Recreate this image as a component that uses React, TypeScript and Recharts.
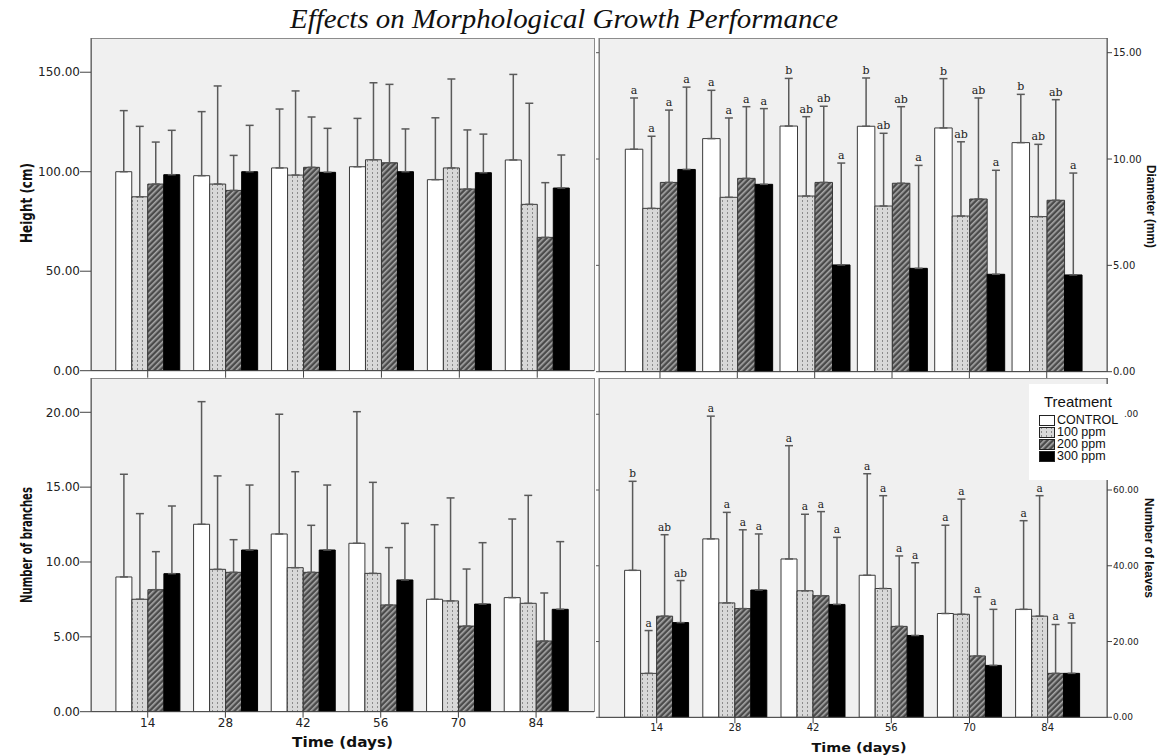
import React from "react";
import { BarChart, Bar, XAxis, YAxis, ErrorBar, LabelList } from "recharts";

const DAYS = ["14", "28", "42", "56", "70", "84"];
const TREATMENTS = ["CONTROL", "100 ppm", "200 ppm", "300 ppm"];

// Height (cm): bar means and error-bar tops, one row per treatment
const HEIGHT_MEAN = [
  [100.0, 98.0, 101.9, 102.5, 96.0, 105.9],
  [87.4, 93.8, 98.3, 106.0, 101.9, 83.6],
  [93.8, 90.6, 102.2, 104.5, 91.3, 67.0],
  [98.5, 100.0, 99.7, 100.0, 99.5, 91.8],
];
const HEIGHT_TOP = [
  [130.7, 130.2, 131.5, 126.8, 127.1, 148.9],
  [122.8, 143.1, 140.6, 144.7, 146.6, 134.4],
  [114.9, 108.2, 127.5, 143.9, 121.0, 94.5],
  [120.8, 123.3, 121.8, 121.5, 118.9, 108.4],
];

// Diameter (mm)
const DIAMETER_MEAN = [
  [10.46, 10.96, 11.55, 11.54, 11.46, 10.77],
  [7.68, 8.2, 8.26, 7.79, 7.32, 7.29],
  [8.9, 9.09, 8.9, 8.86, 8.12, 8.06],
  [9.51, 8.81, 5.02, 4.86, 4.58, 4.55],
];
const DIAMETER_TOP = [
  [12.87, 13.23, 13.79, 13.81, 13.78, 13.04],
  [11.07, 11.93, 11.99, 11.21, 10.81, 10.69],
  [12.3, 12.46, 12.48, 12.46, 12.87, 12.79],
  [13.38, 12.37, 9.81, 9.7, 9.47, 9.34],
];
const DIAMETER_LETTERS = [
  ["a", "a", "b", "b", "b", "b"],
  ["a", "a", "ab", "ab", "ab", "ab"],
  ["a", "a", "ab", "ab", "ab", "ab"],
  ["a", "a", "a", "a", "a", "a"],
];

// Number of branches
const BRANCH_MEAN = [
  [9.0, 12.52, 11.87, 11.25, 7.51, 7.62],
  [7.51, 9.51, 9.62, 9.24, 7.4, 7.24],
  [8.15, 9.31, 9.31, 7.13, 5.72, 4.72],
  [9.22, 10.8, 10.8, 8.8, 7.19, 6.84],
];
const BRANCH_TOP = [
  [15.86, 20.71, 19.87, 20.04, 12.49, 12.87],
  [13.23, 15.75, 16.03, 15.32, 14.28, 14.45],
  [10.69, 11.49, 12.45, 10.96, 9.53, 7.93],
  [13.74, 15.14, 15.14, 12.58, 11.29, 11.36],
];

// Number of leaves
const LEAF_MEAN = [
  [38.8, 47.1, 41.8, 37.5, 27.4, 28.5],
  [11.6, 30.2, 33.4, 34.0, 27.2, 26.7],
  [26.7, 28.7, 32.1, 24.0, 16.2, 11.6],
  [25.0, 33.6, 29.8, 21.6, 13.7, 11.6],
];
const LEAF_TOP = [
  [62.3, 79.5, 71.7, 64.3, 50.7, 51.9],
  [22.9, 54.1, 53.6, 58.5, 57.6, 58.5],
  [48.2, 49.5, 54.3, 42.6, 31.8, 24.5],
  [36.1, 48.4, 47.5, 40.8, 28.5, 24.9],
];
const LEAF_LETTERS = [
  ["b", "a", "a", "a", "a", "a"],
  ["a", "a", "a", "a", "a", "a"],
  ["ab", "a", "a", "a", "a", "a"],
  ["ab", "a", "a", "a", "a", "a"],
];

const buildRows = (mean: number[][], top: number[][], letters?: string[][]) =>
  DAYS.map((day, i) => {
    const row: any = { day };
    mean.forEach((m, s) => {
      row[`m${s}`] = m[i];
      row[`e${s}`] = [0, +(top[s][i] - m[i]).toFixed(2)];
      if (letters) row[`l${s}`] = letters[s][i];
    });
    return row;
  });

const fillFor = (id: string, s: number) =>
  s === 0 ? "#ffffff" : s === 1 ? `url(#dots-${id})` : s === 2 ? `url(#hatch-${id})` : "#000000";

function Patterns({ id }: { id: string }) {
  return (
    <defs>
      <pattern id={`dots-${id}`} width={5} height={4} patternUnits="userSpaceOnUse">
        <rect width={5} height={4} fill="#d8d8d8" />
        <rect x={2} y={0} width={1} height={2} fill="#8a8a8a" />
      </pattern>
      <pattern id={`hatch-${id}`} width={4} height={4} patternUnits="userSpaceOnUse" patternTransform="rotate(45)">
        <rect width={4} height={4} fill="#4a4a4a" />
        <rect x={0} y={0} width={1.6} height={4} fill="#a8a8a8" />
      </pattern>
    </defs>
  );
}

const letterContent = (fontSize: number) => (props: any) => {
  const vb = props.viewBox;
  if (!vb) return null;
  const [letter, err, mean] = String(props.value).split("|");
  const k = vb.height / Number(mean);
  return (
    <text
      x={vb.x + vb.width / 2}
      y={vb.y - Number(err) * k - 4}
      textAnchor="middle"
      fontSize={fontSize}
      fontFamily="'DejaVu Serif', serif"
      fill="#222"
    >
      {letter}
    </text>
  );
};

// y tick; the integer part of a label hidden under the legend is dropped, as in the source
const yTick = (fontSize: number, covered?: number) => (p: any) => {
  const v = Number(p.payload.value);
  const full = v.toFixed(2);
  const hide = covered !== undefined && v === covered;
  return (
    <text
      x={hide ? p.x + 11 : p.x}
      y={p.y}
      dy="0.355em"
      textAnchor={p.textAnchor}
      fontSize={fontSize}
      fill="#222"
      fontFamily="'DejaVu Sans', sans-serif"
    >
      {hide ? full.slice(full.indexOf(".")) : full}
    </text>
  );
};

type Geo = { left: number; top: number; w: number; h: number; x0: number; x1: number; y0: number; y1: number; xh: number };

interface PanelProps {
  id: string;
  geo: Geo;
  rows: any[];
  max: number;
  ticks: number[];
  side: "left" | "right";
  barSize: number;
  padL: number;
  padR: number;
  yFont: number;
  xFont: number;
  xLabels: boolean;
  tickX: number;
  letterFont?: number;
  covered?: number;
}

function Panel({ id, geo, rows, max, ticks, side, barSize, padL, padR, yFont, xFont, xLabels, tickX, letterFont, covered }: PanelProps) {
  const right = side === "right";
  const leftW = geo.x0 - geo.left;
  const rightW = geo.left + geo.w - geo.x1;
  const margin = {
    top: geo.y0 - geo.top,
    left: 0,
    right: right ? 0 : rightW,
    bottom: geo.top + geo.h - geo.y1 - geo.xh,
  };
  return (
    <>
      <div
        style={{
          position: "absolute",
          left: geo.x0 - 0.5,
          top: geo.y0 - 0.5,
          width: geo.x1 - geo.x0 + 1,
          height: geo.y1 - geo.y0 + 1,
          background: "#f0f0f0",
          border: "1px solid #8c8c8c",
          boxSizing: "border-box",
        }}
      />
      <div style={{ position: "absolute", left: geo.left, top: geo.top }}>
        <BarChart width={geo.w} height={geo.h} data={rows} margin={margin} barGap={0}>
          <Patterns id={id} />
          <XAxis
            dataKey="day"
            interval={0}
            padding={{ left: padL, right: padR }}
            height={geo.xh}
            tickSize={tickX}
            tickMargin={1}
            axisLine={{ stroke: "#444" }}
            tickLine={{ stroke: "#444" }}
            tick={{ fontSize: xFont, fill: "#222", fontFamily: "'DejaVu Sans', sans-serif" }}
            tickFormatter={xLabels ? undefined : () => ""}
          />
          {right && (
            <YAxis
              yAxisId="edge"
              orientation="left"
              width={leftW}
              domain={[0, max]}
              ticks={ticks}
              interval={0}
              allowDataOverflow
              tickSize={3}
              tickFormatter={() => ""}
              axisLine={{ stroke: "#777" }}
              tickLine={{ stroke: "#555" }}
            />
          )}
          <YAxis
            yAxisId="v"
            orientation={side}
            width={right ? rightW : leftW}
            domain={[0, max]}
            ticks={ticks}
            interval={0}
            allowDataOverflow
            tickSize={right ? 5 : 11}
            tickMargin={right ? 1 : 0}
            axisLine={{ stroke: "#555" }}
            tickLine={{ stroke: "#444" }}
            tick={yTick(yFont, covered)}
          />
          {TREATMENTS.map((t, s) => (
            <Bar
              key={t}
              name={t}
              yAxisId="v"
              dataKey={`m${s}`}
              fill={fillFor(id, s)}
              stroke={s === 3 ? "#000" : "#3a3a3a"}
              strokeWidth={1}
              barSize={barSize}
              isAnimationActive={false}
            >
              <ErrorBar dataKey={`e${s}`} direction="y" width={4} stroke="#5a5a5a" strokeWidth={1.5} isAnimationActive={false} />
              {letterFont && (
                <LabelList
                  dataKey={(row: any) => `${row[`l${s}`]}|${row[`e${s}`][1]}|${row[`m${s}`]}`}
                  content={letterContent(letterFont)}
                />
              )}
            </Bar>
          ))}
        </BarChart>
      </div>
    </>
  );
}

function LegendBox() {
  return (
    <div
      style={{
        position: "absolute",
        left: 1029,
        top: 384,
        width: 94,
        height: 96,
        background: "#fff",
        fontFamily: "'Liberation Sans', Arial, sans-serif",
        color: "#111",
      }}
    >
      <div style={{ position: "absolute", left: 15, top: 10, fontSize: 15, lineHeight: "15px" }}>Treatment</div>
      {TREATMENTS.map((t, s) => (
        <div
          key={t}
          style={{ position: "absolute", left: 10, top: 30 + s * 12, height: 12, display: "flex", alignItems: "center", fontSize: 12.5, whiteSpace: "nowrap" }}
        >
          <svg width={16} height={11} style={{ display: "block" }}>
            <Patterns id={`lg${s}`} />
            <rect x={0.5} y={0.5} width={15} height={10} fill={fillFor(`lg${s}`, s)} stroke="#222" />
          </svg>
          <span style={{ marginLeft: 2, lineHeight: "12px" }}>{t}</span>
        </div>
      ))}
    </div>
  );
}

const NARROW = "'Liberation Sans Narrow', 'Arial Narrow', 'DejaVu Sans Condensed', sans-serif";

export default function App() {
  const heightRows = buildRows(HEIGHT_MEAN, HEIGHT_TOP);
  const diameterRows = buildRows(DIAMETER_MEAN, DIAMETER_TOP, DIAMETER_LETTERS);
  const branchRows = buildRows(BRANCH_MEAN, BRANCH_TOP);
  const leafRows = buildRows(LEAF_MEAN, LEAF_TOP, LEAF_LETTERS);

  return (
    <div style={{ position: "absolute", left: 0, top: 0, width: 1163, height: 756, background: "#fff", overflow: "hidden" }}>
      <Panel
        id="tl"
        geo={{ left: 0, top: 0, w: 600, h: 380, x0: 91, x1: 594, y0: 38, y1: 370.7, xh: 8 }}
        rows={heightRows}
        max={167.2}
        ticks={[0, 50, 100, 150]}
        side="left"
        barSize={16}
        padL={17.75}
        padR={17.8}
        yFont={12}
        xFont={12}
        xLabels={false}
        tickX={7}
      />
      <Panel
        id="tr"
        geo={{ left: 590, top: 0, w: 573, h: 380, x0: 599, x1: 1107, y0: 38, y1: 371.7, xh: 8 }}
        rows={diameterRows}
        max={15.69}
        ticks={[0, 5, 10, 15]}
        side="right"
        barSize={17.5}
        padL={22.3}
        padR={21.6}
        yFont={10}
        xFont={10}
        xLabels={false}
        tickX={7}
        letterFont={11}
      />
      <Panel
        id="bl"
        geo={{ left: 0, top: 370, w: 600, h: 386, x0: 91, x1: 594, y0: 378, y1: 711.7, xh: 20 }}
        rows={branchRows}
        max={22.29}
        ticks={[0, 5, 10, 15, 20]}
        side="left"
        barSize={16}
        padL={17.9}
        padR={19.1}
        yFont={12}
        xFont={12}
        xLabels
        tickX={6}
      />
      <Panel
        id="br"
        geo={{ left: 590, top: 370, w: 573, h: 386, x0: 599, x1: 1107, y0: 378, y1: 717.3, xh: 20 }}
        rows={leafRows}
        max={89.57}
        ticks={[0, 20, 40, 60, 80]}
        side="right"
        barSize={16}
        padL={18.6}
        padR={20.2}
        yFont={9}
        xFont={10}
        xLabels
        tickX={6}
        letterFont={10.5}
        covered={80}
      />
      <LegendBox />
      <svg width={1163} height={756} style={{ position: "absolute", left: 0, top: 0, pointerEvents: "none" }}>
        <text x={564} y={28} textAnchor="middle" fontSize={28} fontStyle="italic" fontFamily="'Liberation Serif', 'Times New Roman', serif" fill="#111" textLength={548} lengthAdjust="spacingAndGlyphs">
          Effects on Morphological Growth Performance
        </text>
        <text transform="translate(32,203) rotate(-90)" textAnchor="middle" fontSize={15} fontWeight="bold" fontFamily={NARROW} fill="#111" textLength={80} lengthAdjust="spacingAndGlyphs">
          Height (cm)
        </text>
        <text transform="translate(32,545) rotate(-90)" textAnchor="middle" fontSize={16} fontWeight="bold" fontFamily={NARROW} fill="#111" textLength={116} lengthAdjust="spacingAndGlyphs">
          Number of branches
        </text>
        <text transform="translate(1147,206.5) rotate(90)" textAnchor="middle" fontSize={13.5} fontWeight="bold" fontFamily="'Liberation Sans', Arial, sans-serif" fill="#111" textLength={83} lengthAdjust="spacingAndGlyphs">
          Diameter (mm)
        </text>
        <text transform="translate(1145,548) rotate(90)" textAnchor="middle" fontSize={13.5} fontWeight="bold" fontFamily="'Liberation Sans', Arial, sans-serif" fill="#111" textLength={100} lengthAdjust="spacingAndGlyphs">
          Number of leaves
        </text>
        <text x={342.5} y={747} textAnchor="middle" fontSize={14} fontWeight="bold" fontFamily="'DejaVu Sans', sans-serif" fill="#111" textLength={101} lengthAdjust="spacingAndGlyphs">
          Time (days)
        </text>
        <text x={859} y={751.5} textAnchor="middle" fontSize={13} fontWeight="bold" fontFamily="'DejaVu Sans', sans-serif" fill="#111" textLength={95} lengthAdjust="spacingAndGlyphs">
          Time (days)
        </text>
      </svg>
    </div>
  );
}
